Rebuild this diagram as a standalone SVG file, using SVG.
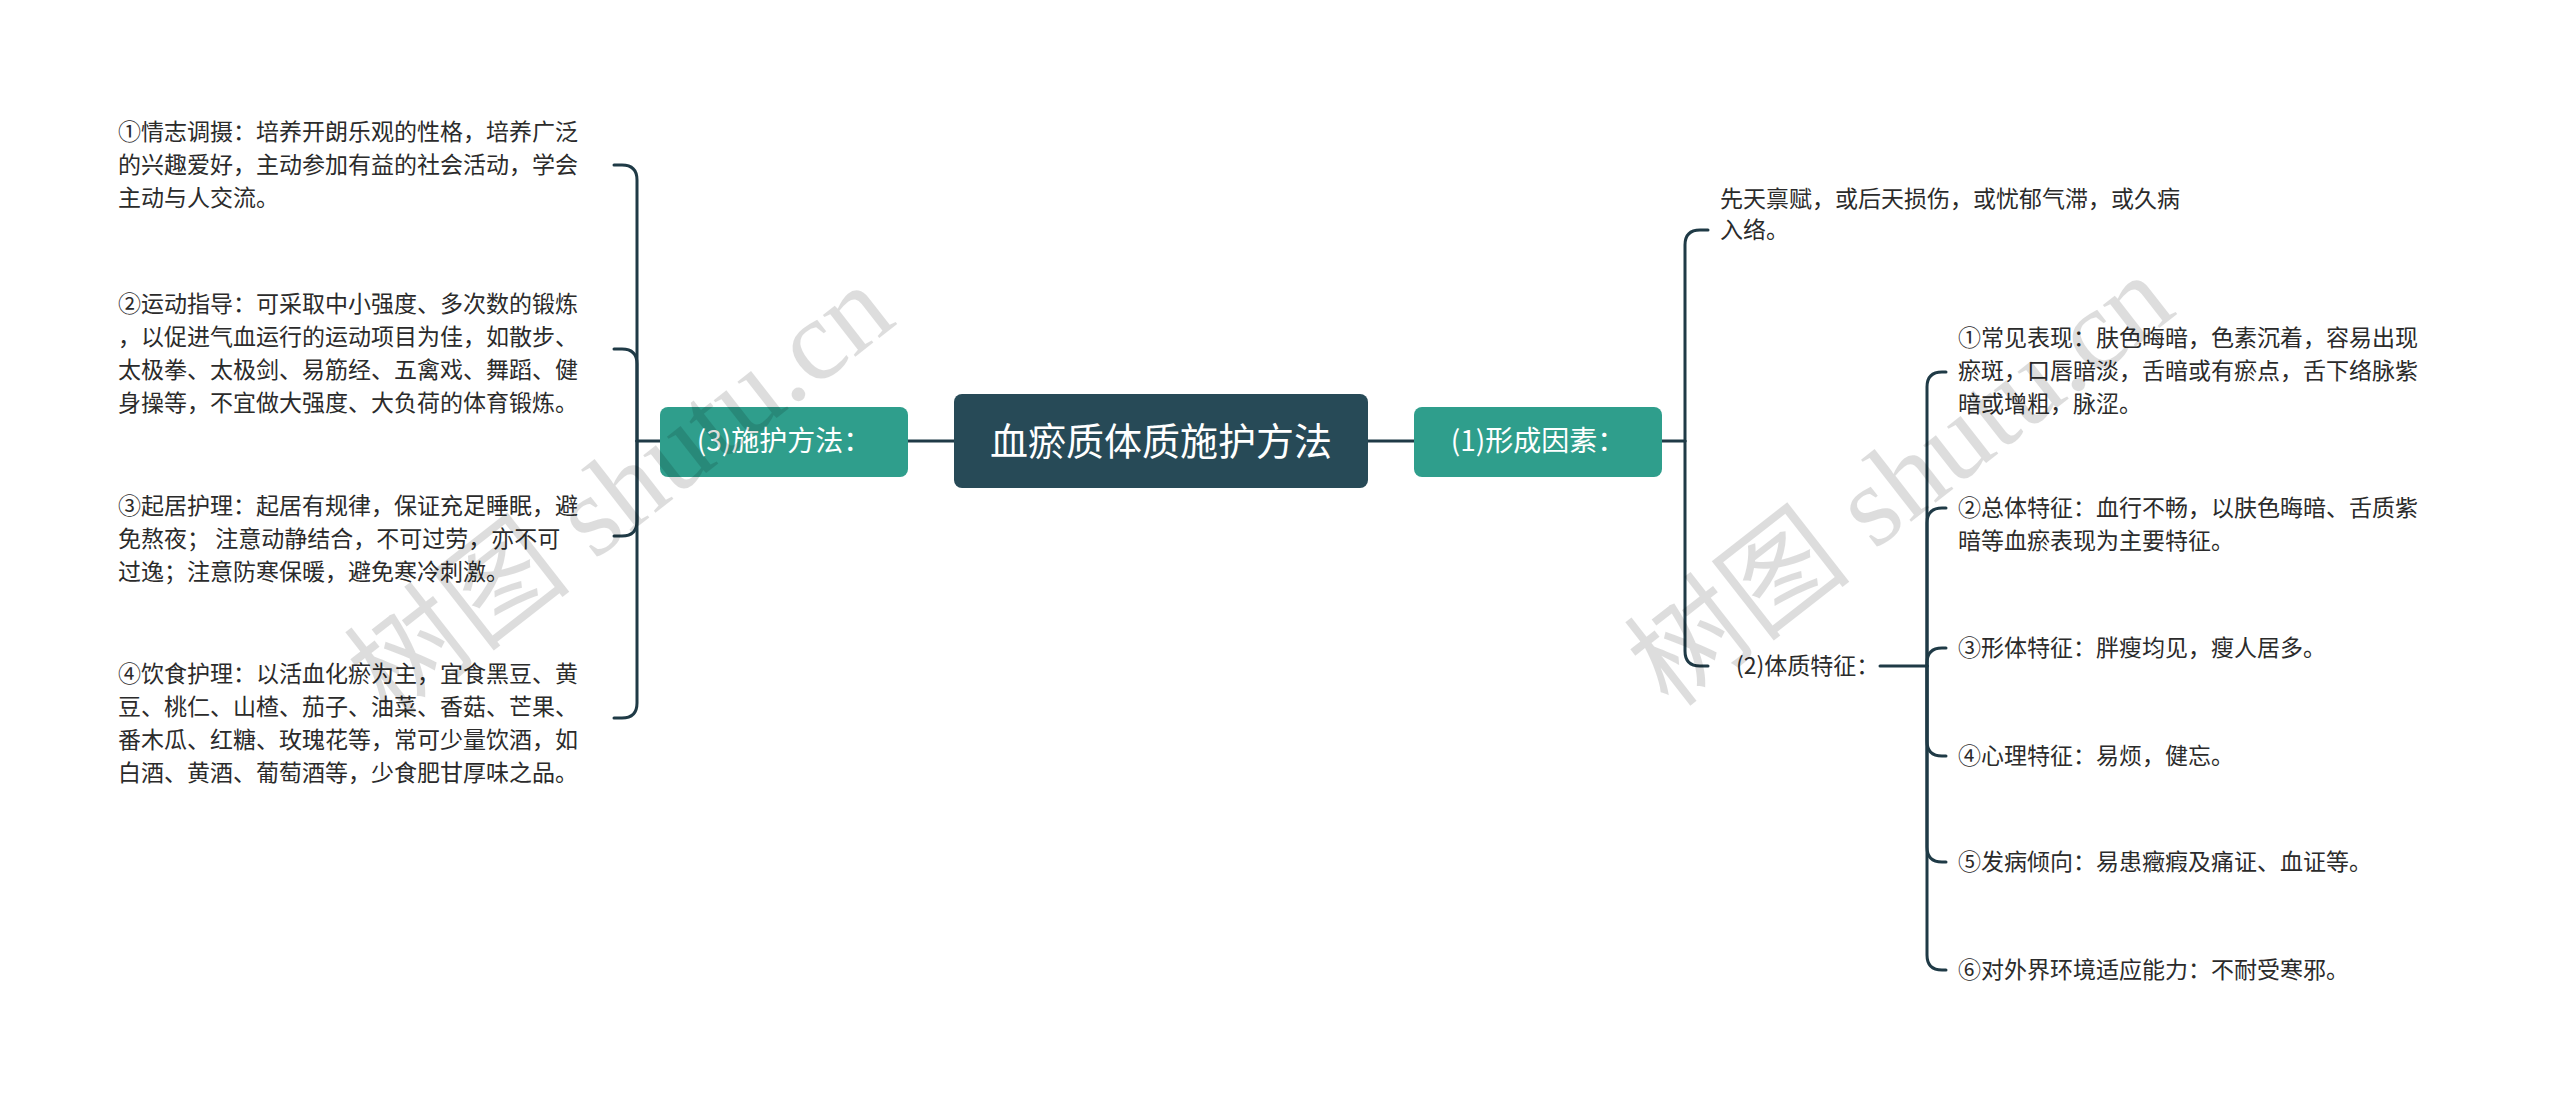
<svg xmlns="http://www.w3.org/2000/svg" width="2560" height="1102" viewBox="0 0 2560 1102">
<style>
.ln{fill:none;stroke:#1f3a46;stroke-width:3;stroke-linecap:round}
.t{font-family:"Noto Sans CJK SC","Noto Sans",sans-serif;font-size:23px;fill:#2b2b2b}
.nt{font-family:"Noto Sans CJK SC","Noto Sans",sans-serif;font-size:28px;fill:#ffffff;text-anchor:middle}
.wm{font-family:"Liberation Serif","Noto Sans CJK SC",serif;font-size:115px;fill:#000;opacity:0.13}
</style>
<rect width="2560" height="1102" fill="#ffffff"/>
<g id="connectors">
<line class="ln" x1="908" y1="441" x2="954" y2="441"/>
<line class="ln" x1="637" y1="441" x2="660" y2="441"/>
<line class="ln" x1="1368" y1="441" x2="1414" y2="441"/>
<line class="ln" x1="1662" y1="441" x2="1685" y2="441"/>
<path class="ln" d="M637,441 V180 Q637,165 622,165 H614"/>
<path class="ln" d="M637,441 V364 Q637,349 622,349 H614"/>
<path class="ln" d="M637,441 V521 Q637,536 622,536 H614"/>
<path class="ln" d="M637,441 V703 Q637,718 622,718 H614"/>
<path class="ln" d="M1685,441 V245 Q1685,230 1700,230 H1708"/>
<path class="ln" d="M1685,441 V651 Q1685,666 1700,666 H1708"/>
<line class="ln" x1="1880" y1="666" x2="1927" y2="666"/>
<path class="ln" d="M1927,666 V387 Q1927,372 1942,372 H1946"/>
<path class="ln" d="M1927,666 V523 Q1927,508 1942,508 H1946"/>
<path class="ln" d="M1927,666 V663 Q1927,648 1942,648 H1946"/>
<path class="ln" d="M1927,666 V741 Q1927,756 1942,756 H1946"/>
<path class="ln" d="M1927,666 V847 Q1927,862 1942,862 H1946"/>
<path class="ln" d="M1927,666 V955 Q1927,970 1942,970 H1946"/>
</g>
<g id="root">
<rect x="954" y="394" width="414" height="94" rx="8" fill="#274a57"/>
<text class="nt" x="1161" y="455" style="font-size:38px">血瘀质体质施护方法</text>
</g>
<g id="n3">
<rect x="660" y="407" width="248" height="70" rx="8" fill="#2f9e8c"/>
<text class="nt" x="784" y="451">(3)施护方法：</text>
</g>
<g id="n1">
<rect x="1414" y="407" width="248" height="70" rx="8" fill="#2f9e8c"/>
<text class="nt" x="1538" y="451">(1)形成因素：</text>
</g>
<g id="l1"><text class="t"><tspan x="118" y="140">①情志调摄：培养开朗乐观的性格，培养广泛</tspan><tspan x="118" y="173">的兴趣爱好，主动参加有益的社会活动，学会</tspan><tspan x="118" y="206">主动与人交流。</tspan></text></g>
<g id="l2"><text class="t"><tspan x="118" y="312">②运动指导：可采取中小强度、多次数的锻炼</tspan><tspan x="118" y="345">，以促进气血运行的运动项目为佳，如散步、</tspan><tspan x="118" y="378">太极拳、太极剑、易筋经、五禽戏、舞蹈、健</tspan><tspan x="118" y="411">身操等，不宜做大强度、大负荷的体育锻炼。</tspan></text></g>
<g id="l3"><text class="t"><tspan x="118" y="514">③起居护理：起居有规律，保证充足睡眠，避</tspan><tspan x="118" y="547">免熬夜； 注意动静结合，不可过劳，亦不可</tspan><tspan x="118" y="580">过逸；注意防寒保暖，避免寒冷刺激。</tspan></text></g>
<g id="l4"><text class="t"><tspan x="118" y="682">④饮食护理：以活血化瘀为主，宜食黑豆、黄</tspan><tspan x="118" y="715">豆、桃仁、山楂、茄子、油菜、香菇、芒果、</tspan><tspan x="118" y="748">番木瓜、红糖、玫瑰花等，常可少量饮酒，如</tspan><tspan x="118" y="781">白酒、黄酒、葡萄酒等，少食肥甘厚味之品。</tspan></text></g>
<g id="r1"><text class="t"><tspan x="1720" y="207">先天禀赋，或后天损伤，或忧郁气滞，或久病</tspan><tspan x="1720" y="238">入络。</tspan></text></g>
<g id="r2"><text class="t"><tspan x="1736" y="674">(2)体质特征：</tspan></text></g>
<g id="s1"><text class="t"><tspan x="1958" y="346">①常见表现：肤色晦暗，色素沉着，容易出现</tspan><tspan x="1958" y="379">瘀斑，口唇暗淡，舌暗或有瘀点，舌下络脉紫</tspan><tspan x="1958" y="412">暗或增粗，脉涩。</tspan></text></g>
<g id="s2"><text class="t"><tspan x="1958" y="516">②总体特征：血行不畅，以肤色晦暗、舌质紫</tspan><tspan x="1958" y="549">暗等血瘀表现为主要特征。</tspan></text></g>
<g id="s3"><text class="t" x="1958" y="656">③形体特征：胖瘦均见，瘦人居多。</text></g>
<g id="s4"><text class="t" x="1958" y="764">④心理特征：易烦，健忘。</text></g>
<g id="s5"><text class="t" x="1958" y="870">⑤发病倾向：易患癥瘕及痛证、血证等。</text></g>
<g id="s6"><text class="t" x="1958" y="978">⑥对外界环境适应能力：不耐受寒邪。</text></g>
<text class="wm" transform="translate(390,720) rotate(-38)">树图 shutu.cn</text>
<text class="wm" transform="translate(1670,710) rotate(-38)">树图 shutu.cn</text>
</svg>
